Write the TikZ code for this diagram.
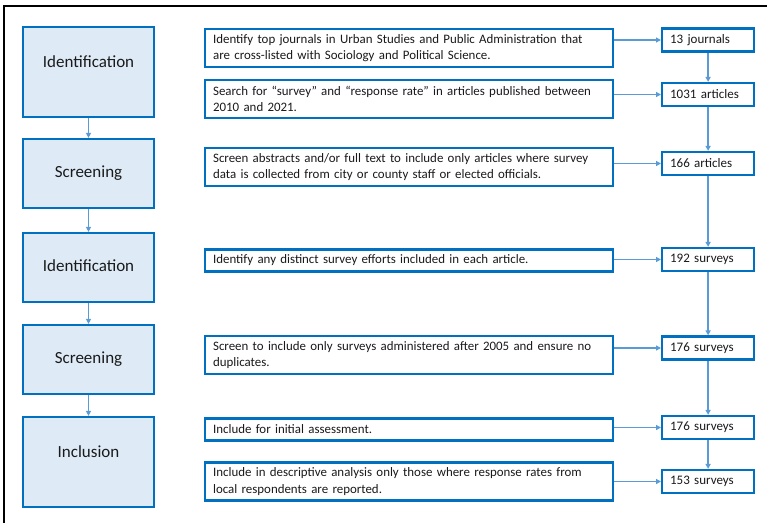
\documentclass[tikz,border=0pt]{standalone}
\usepackage{fontspec}
\setmainfont{Carlito}
\usetikzlibrary{arrows.meta}
\definecolor{bord}{HTML}{0070C0}
\definecolor{arr}{HTML}{5B9BD5}
\definecolor{lfill}{HTML}{DEEBF7}
\definecolor{txt}{HTML}{1A1A1A}
\begin{document}
\begin{tikzpicture}[x=1pt,y=-1pt,
  lbox/.style={draw=bord, fill=lfill, line width=2.2pt, minimum width=131pt, inner sep=0pt,
    font=\fontsize{17}{20}\selectfont, text=txt, text height=12pt, text depth=4pt},
  tallbox/.style={lbox, text depth=22pt},
  mbox/.style={draw=bord, fill=white, line width=2.2pt, anchor=west, inner xsep=8pt, inner ysep=0pt,
    text width=392pt, align=left, font=\fontsize{12.9}{16.5}\selectfont, text=txt},
  rbox/.style={draw=bord, fill=white, line width=2.2pt, anchor=west, inner xsep=8pt, inner ysep=0pt,
    text width=76pt, minimum height=23pt, align=left, font=\fontsize{13}{16}\selectfont, text=txt},
  arrline/.style={draw=arr, line width=1.7pt, -{Triangle[length=5pt,width=5pt]}}
]
\useasboundingbox (0,0) rectangle (767,523);
\draw[line width=2pt, black] (767,6) -- (3.5,6) -- (3.5,523);

% left column
\node[tallbox, minimum height=90pt] (L1) at (88.5,72) {Identification};
\node[lbox, minimum height=69pt] (L2) at (88.5,173.5) {Screening};
\node[lbox, minimum height=69pt] (L3) at (88.5,267.5) {Identification};
\node[lbox, minimum height=69pt] (L4) at (88.5,359.5) {Screening};
\node[tallbox, minimum height=90pt] (L5) at (88.5,462) {Inclusion};

\draw[arrline] (L1.south) -- (L2.north);
\draw[arrline] (L2.south) -- (L3.north);
\draw[arrline] (L3.south) -- (L4.north);
\draw[arrline] (L4.south) -- (L5.north);

% middle column
\node[mbox, minimum height=38pt] (M1) at (204,48) {Identify top journals in Urban Studies and Public Administration that\\are cross-listed with Sociology and Political Science.};
\node[mbox, minimum height=38pt] (M2) at (204,99) {Search for “survey” and “response rate” in articles published between\\2010 and 2021.};
\node[mbox, minimum height=38pt] (M3) at (204,167) {Screen abstracts and/or full text to include only articles where survey\\data is collected from city or county staff or elected officials.};
\node[mbox, minimum height=22pt] (M4) at (204,260.5) {Identify any distinct survey efforts included in each article.};
\node[mbox, minimum height=38pt] (M5) at (204,355) {Screen to include only surveys administered after 2005 and ensure no\\duplicates.};
\node[mbox, minimum height=22pt] (M6) at (204,429.5) {Include for initial assessment.};
\node[mbox, minimum height=38pt] (M7) at (204,481.5) {Include in descriptive analysis only those where response rates from\\local respondents are reported.};

% right column
\node[rbox] (R1) at (661,40) {13 journals};
\node[rbox] (R2) at (661,94.5) {1031 articles};
\node[rbox] (R3) at (661,163.5) {166 articles};
\node[rbox] (R4) at (661,259.5) {192 surveys};
\node[rbox] (R5) at (661,348) {176 surveys};
\node[rbox] (R6) at (661,427.5) {176 surveys};
\node[rbox] (R7) at (661,481.5) {153 surveys};

\foreach \i in {1,...,7} {
  \draw[arrline] (M\i.east |- R\i.west) -- (R\i.west);
}
\draw[arrline] (R1.south) -- (R2.north);
\draw[arrline] (R2.south) -- (R3.north);
\draw[arrline] (R3.south) -- (R4.north);
\draw[arrline] (R4.south) -- (R5.north);
\draw[arrline] (R5.south) -- (R6.north);
\draw[arrline] (R6.south) -- (R7.north);
\end{tikzpicture}
\end{document}
